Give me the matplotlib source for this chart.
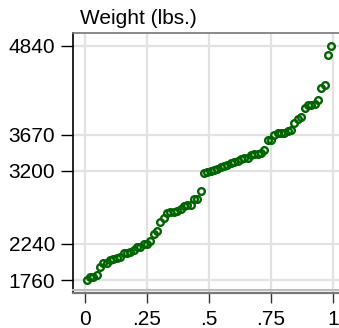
import numpy as np
import matplotlib
matplotlib.use("Agg")
import matplotlib.pyplot as plt
from matplotlib.lines import Line2D

# car weights in lbs, sorted
weight = [1760, 1800, 1800, 1830, 1930, 1980, 1990, 2020, 2040, 2050,
          2070, 2110, 2120, 2130, 2160, 2200, 2200, 2230, 2240, 2280,
          2370, 2410, 2520, 2580, 2640, 2650, 2650, 2670, 2690, 2730,
          2750, 2750, 2830, 2830, 2930, 3170, 3180, 3200, 3210, 3220,
          3250, 3260, 3280, 3300, 3310, 3330, 3350, 3370, 3370, 3400,
          3420, 3420, 3430, 3470, 3600, 3600, 3670, 3690, 3690, 3700,
          3720, 3740, 3830, 3880, 3900, 4030, 4060, 4060, 4080, 4130,
          4290, 4330, 4720, 4840]
yticks = [1760, 2240, 3200, 3670, 4840]
xticks = [0, 0.25, 0.5, 0.75, 1]
xlabels = ["0", ".25", ".5", ".75", "1"]

plt.rcParams['font.family'] = ['Liberation Sans', 'DejaVu Sans']

n = len(weight)
frac = (np.arange(1, n + 1) - 0.5) / n

W, H = 339, 328
fig = plt.figure(figsize=(W / 100, H / 100), dpi=100)
left, right, top, bottom = 73, 339, 33, 293
ax = fig.add_axes([left / W, (H - bottom) / H, (right - left) / W, (bottom - top) / H])

ax.set_xlim(-0.0484, 1.024)
ax.set_ylim(1590, 5011)

ax.grid(True, color="#e2e2e2", lw=1.6)
ax.set_axisbelow(True)

ax.plot(frac, weight, "o", ms=4.8, mfc="none", mec="#006400", mew=1.7, zorder=3)

ax.set_xticks(xticks)
ax.set_xticklabels(xlabels)
ax.set_yticks(yticks)
ax.tick_params(axis="y", labelsize=15, length=9, width=1, color="black", pad=4)
ax.tick_params(axis="x", labelsize=15, length=7, width=1, color="#333333", pad=5)

ax.spines["right"].set_visible(False)
ax.spines["left"].set_color("black")
ax.spines["left"].set_linewidth(1.2)
ax.spines["top"].set_color("#777777")
ax.spines["top"].set_linewidth(1.2)
ax.spines["bottom"].set_color("#777777")
ax.spines["bottom"].set_linewidth(1.6)
# lighter band just above the bottom axis
ax.add_line(Line2D([0, 1], [0.012, 0.012], transform=ax.transAxes,
                   color="#bdbdbd", lw=1.5, zorder=4, clip_on=False))

fig.text(80 / W, (H - 19) / H, "Weight (lbs.)", fontsize=15, va="center", ha="left")

fig.savefig("out.png", dpi=100)
